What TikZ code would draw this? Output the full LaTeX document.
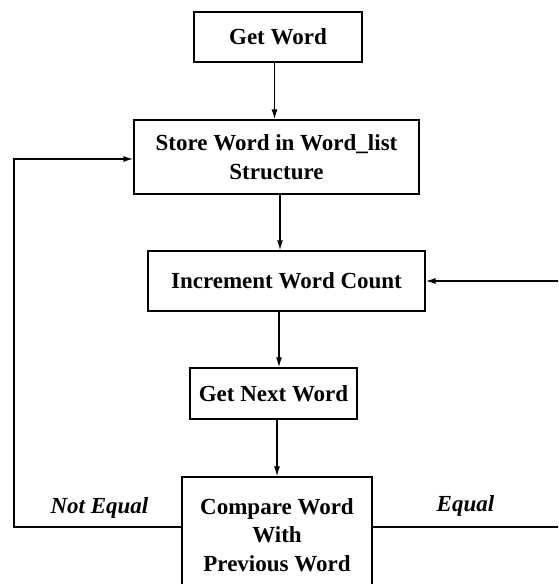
\documentclass[tikz,border=0pt]{standalone}
\usepackage{fontspec}
\setmainfont{Liberation Serif}
\usetikzlibrary{arrows.meta}
\tikzset{
  stepbox/.style={draw,line width=1.3pt,inner sep=0pt,align=center,
    font=\bfseries\fontsize{23}{28.5}\selectfont},
  arr/.style={line width=1.4pt,-{Latex[length=10pt,width=6pt]}},
  lbl/.style={font=\bfseries\itshape\fontsize{23}{28}\selectfont,inner sep=0pt}
}
\begin{document}
\begin{tikzpicture}[x=1pt,y=-1pt]
  \useasboundingbox (0,0) rectangle (558,584);
  \clip (0,0) rectangle (558,584);
   \coordinate (lcorner) at (14,527);
   \coordinate (rcorner) at (562,527);
  \node[stepbox,minimum width=168,minimum height=50] (getword) at (278,37) {Get Word};
  \node[stepbox,minimum width=285,minimum height=74] (store) at (276.5,157)
        {Store Word in Word\_list\\Structure};
  \node[stepbox,minimum width=277,minimum height=60] (incr) at (286.5,281) {Increment Word Count};
  \node[stepbox,minimum width=167,minimum height=51] (getnext) at (273.5,393.5) {Get Next Word};
  \node[stepbox,minimum width=190,minimum height=116] (compare) at (277,535)
        {Compare Word\\With\\Previous Word};
% down the middle
  \draw[arr] ([xshift=-3.5pt]getword.south) -- ([xshift=-3.5pt]getword.south |- store.north);
  \draw[arr] ([xshift=3.5pt]store.south) -- ([xshift=3.5pt]store.south |- incr.north);
  \draw[arr] ([xshift=-7.5pt]incr.south) -- ([xshift=-7.5pt]incr.south |- getnext.north);
  \draw[arr] ([xshift=3.5pt]getnext.south) -- ([xshift=3.5pt]getnext.south |- compare.north);
% the two ways back
  \draw[arr] ([yshift=8pt]compare.west) -| (lcorner) |- ([yshift=-2pt]store.west);
  \draw[arr] ([yshift=8pt]compare.east) -| (rcorner) |- (incr.east);
  \node[lbl,anchor=base] (noteq) at (99.5,513) {Not Equal};
  \node[lbl,anchor=base] (equal) at (465.5,511) {Equal};
\end{tikzpicture}
\end{document}
